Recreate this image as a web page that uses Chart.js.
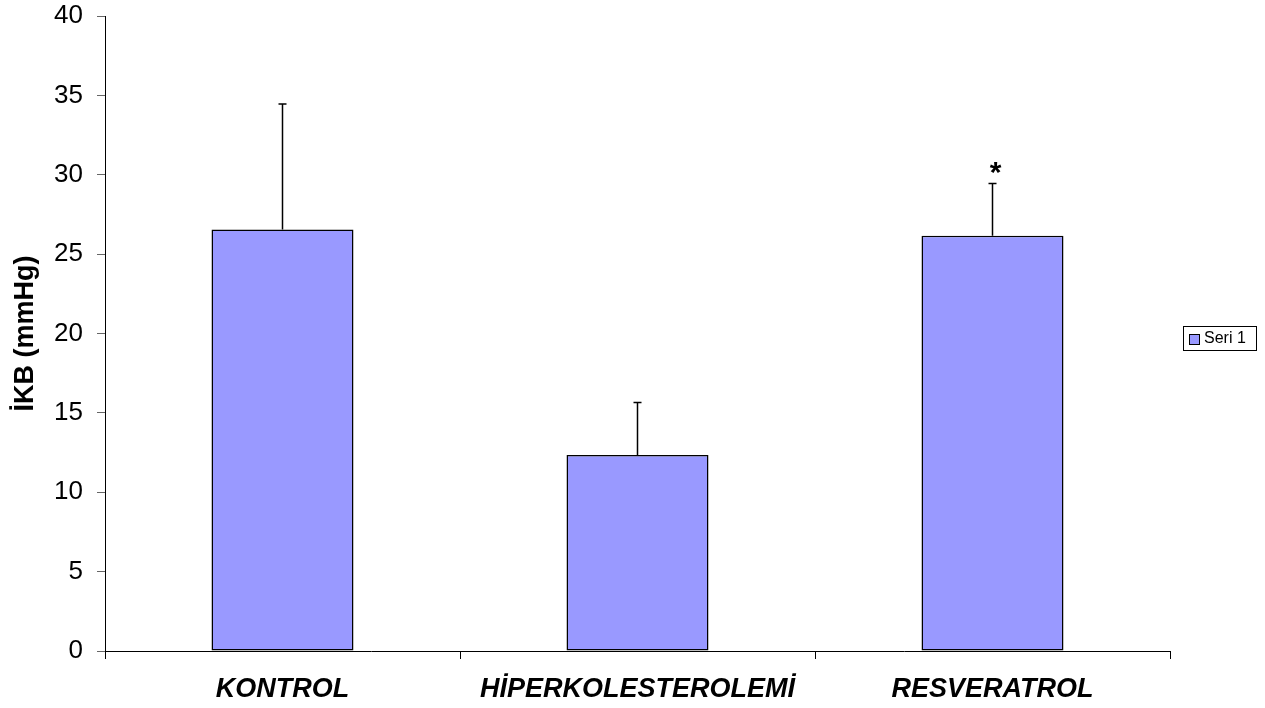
<!DOCTYPE html>
<html>
<head>
<meta charset="utf-8">
<script src="https://cdn.jsdelivr.net/npm/chart.js@4"></script>
<style>
  html, body { margin: 0; padding: 0; background: #fff; }
  #wrap { width: 1265px; height: 708px; }
</style>
</head>
<body>
<div id="wrap"><canvas id="c" width="1265" height="708"></canvas></div>
<script>
const categories = ['KONTROL', 'HİPERKOLESTEROLEMİ', 'RESVERATROL'];
const means = [26.55, 12.35, 26.15];
const sdUpper = [7.9, 3.3, 3.3];          // length of the upper error whisker
const significance = ['', '', '*'];
const seriesName = 'Seri 1';
const yTicks = [0, 5, 10, 15, 20, 25, 30, 35, 40];
const yTitle = 'İKB (mmHg)';

const FONT = '"Liberation Sans", Arial, sans-serif';
const BAR_FILL = '#9999ff';

// Whiskers, significance marks and the legend box
const extras = {
  id: 'extras',
  afterDatasetsDraw(chart) {
    const ctx = chart.ctx;
    const meta = chart.getDatasetMeta(0);
    const y = chart.scales.y;
    ctx.save();
    meta.data.forEach((bar, i) => {
      const x = bar.x;
      const yTop = y.getPixelForValue(means[i] + sdUpper[i]);
      const yBase = y.getPixelForValue(means[i]);
      ctx.strokeStyle = '#000';
      ctx.lineWidth = 1.5;
      ctx.beginPath();
      ctx.moveTo(x, yBase);
      ctx.lineTo(x, yTop);
      ctx.moveTo(x - 4, yTop);
      ctx.lineTo(x + 4, yTop);
      ctx.stroke();
      if (significance[i]) {
        ctx.fillStyle = '#000';
        ctx.font = 'bold 30px ' + FONT;
        ctx.textAlign = 'center';
        ctx.textBaseline = 'alphabetic';
        ctx.fillText(significance[i], x + 3, yTop - 1);
      }
    });

    // legend
    const lx = 1183, ly = 326, lw = 73, lh = 24;
    ctx.fillStyle = '#fff';
    ctx.fillRect(lx, ly, lw, lh);
    ctx.strokeStyle = '#000';
    ctx.lineWidth = 1;
    ctx.strokeRect(lx + 0.5, ly + 0.5, lw, lh);
    ctx.fillStyle = BAR_FILL;
    ctx.fillRect(lx + 6, ly + 8, 10, 10);
    ctx.strokeRect(lx + 6.5, ly + 8.5, 10, 10);
    ctx.fillStyle = '#000';
    ctx.font = '16px ' + FONT;
    ctx.textAlign = 'left';
    ctx.textBaseline = 'middle';
    ctx.fillText(chart.data.datasets[0].label, lx + 21, ly + 13);
    ctx.restore();
  }
};

new Chart(document.getElementById('c'), {
  type: 'bar',
  data: {
    labels: categories,
    datasets: [{
      label: seriesName,
      data: means,
      backgroundColor: BAR_FILL,
      borderColor: '#000',
      borderWidth: 1.5,
      borderSkipped: false,
      categoryPercentage: 1.0,
      barPercentage: 0.4
    }]
  },
  options: {
    responsive: false,
    animation: false,
    devicePixelRatio: 1,
    layout: { padding: { top: 16, right: 95, bottom: 0, left: 0 } },
    plugins: {
      legend: { display: false },
      tooltip: { enabled: false }
    },
    scales: {
      x: {
        offset: true,
        grid: {
          offset: true,
          drawOnChartArea: false,
          tickLength: 8,
          color: '#000'
        },
        border: { color: '#000', width: 1 },
        ticks: {
          color: '#000',
          padding: 14,
          font: { family: FONT, size: 27, weight: 'bold', style: 'italic' }
        },
        afterFit(scale) {
          scale.height = 57;
          scale.paddingLeft = 0;
          scale.paddingRight = 0;
        }
      },
      y: {
        min: 0,
        max: 40,
        afterBuildTicks(scale) { scale.ticks = yTicks.map(v => ({ value: v })); },
        grid: {
          drawOnChartArea: false,
          tickLength: 8,
          color: '#666'
        },
        border: { color: '#000', width: 1 },
        ticks: {
          color: '#000',
          padding: 14,
          font: { family: FONT, size: 26 }
        },
        title: {
          display: true,
          text: yTitle,
          color: '#000',
          padding: { top: 9, bottom: 0 },
          font: { family: FONT, size: 27, weight: 'bold' }
        },
        afterFit(scale) {
          scale.width = 105;
          scale.paddingTop = 0;
          scale.paddingBottom = 0;
        }
      }
    }
  },
  plugins: [extras]
});
</script>
</body>
</html>
